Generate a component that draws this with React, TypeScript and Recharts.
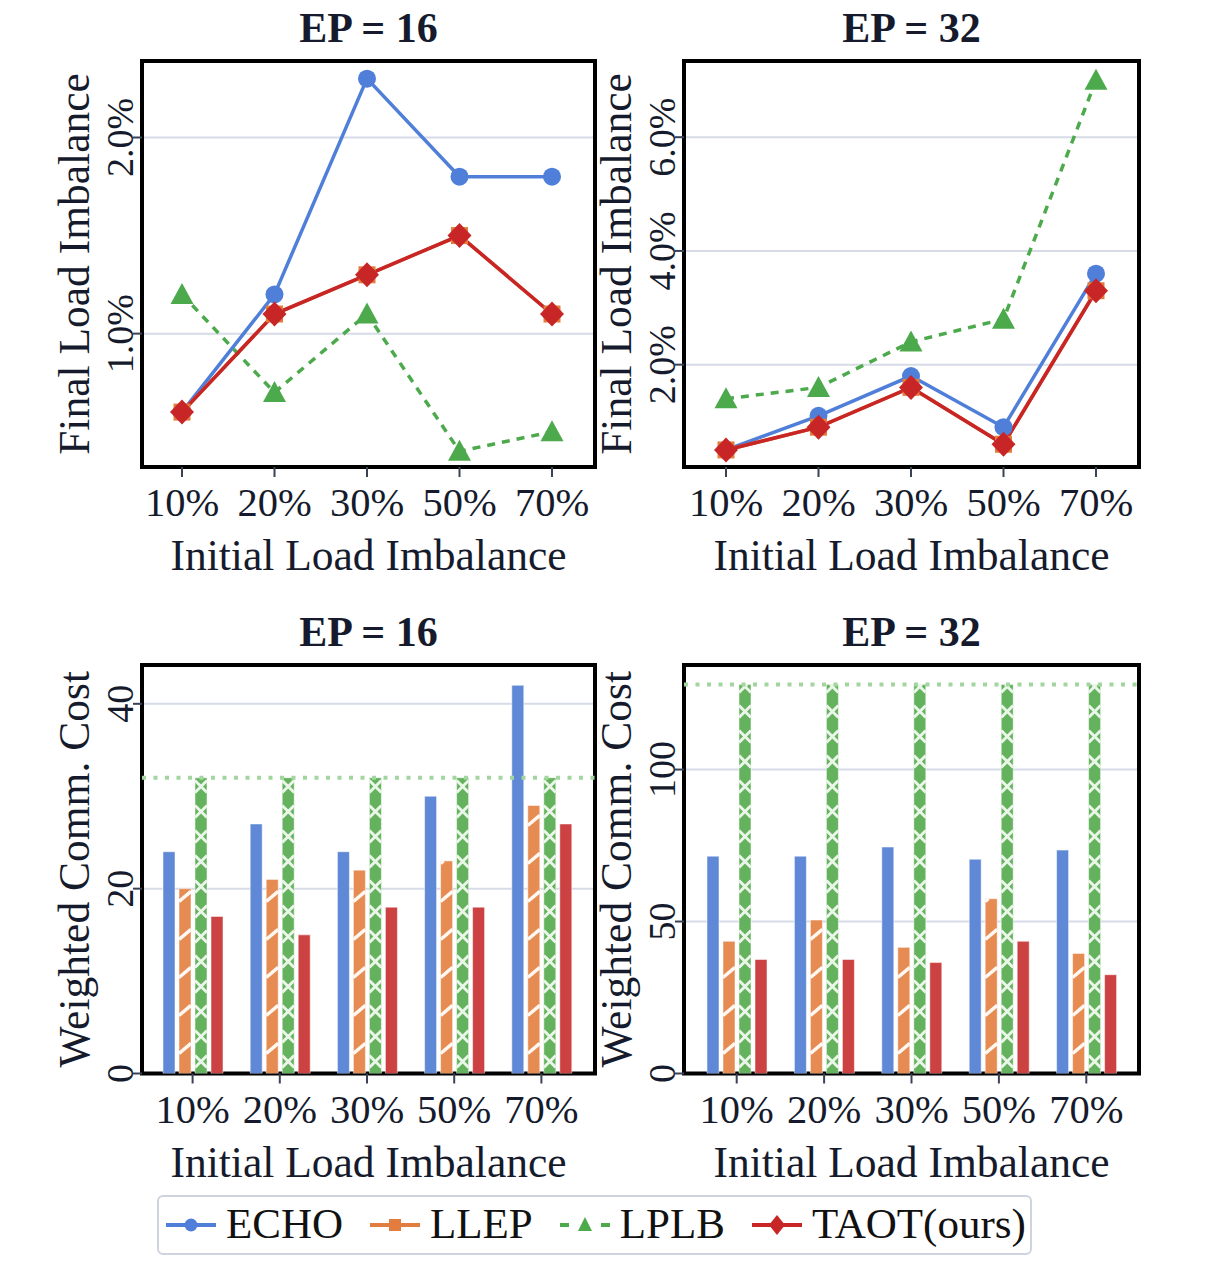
import React from 'react';
import { LineChart, Line, BarChart, Bar, XAxis, YAxis, CartesianGrid, ReferenceLine } from 'recharts';

// ---------- data ----------
const categories = ['10%', '20%', '30%', '50%', '70%'];
const seriesKeys = ['ECHO', 'LLEP', 'LPLB', 'TAOT'];
const seriesLabels = ['ECHO', 'LLEP', 'LPLB', 'TAOT(ours)'];

// Final load imbalance (%), EP = 16
const imb16Echo = [0.6, 1.2, 2.3, 1.8, 1.8];
const imb16Llep = [0.6, 1.1, 1.3, 1.5, 1.1];
const imb16Lplb = [1.2, 0.7, 1.1, 0.4, 0.5];
const imb16Taot = [0.6, 1.1, 1.3, 1.5, 1.1];
const imb16Ticks = [1.0, 2.0];

// Final load imbalance (%), EP = 32
const imb32Echo = [0.5, 1.1, 1.8, 0.9, 3.6];
const imb32Llep = [0.5, 0.9, 1.6, 0.6, 3.3];
const imb32Lplb = [1.4, 1.6, 2.4, 2.8, 7.0];
const imb32Taot = [0.5, 0.9, 1.6, 0.6, 3.3];
const imb32Ticks = [2, 4, 6];

// Weighted comm. cost, EP = 16
const cost16Echo = [24, 27, 24, 30, 42];
const cost16Llep = [20, 21, 22, 23, 29];
const cost16Lplb = [32, 32, 32, 32, 32];
const cost16Taot = [17, 15, 18, 18, 27];
const cost16Bound = 32;
const cost16Ticks = [0, 20, 40];

// Weighted comm. cost, EP = 32
const cost32Echo = [71.5, 71.5, 74.5, 70.5, 73.5];
const cost32Llep = [43.5, 50.5, 41.5, 57.5, 39.5];
const cost32Lplb = [128, 128, 128, 128, 128];
const cost32Taot = [37.5, 37.5, 36.5, 43.5, 32.5];
const cost32Bound = 128;
const cost32Ticks = [0, 50, 100];

const build = (a: number[], b: number[], c: number[], d: number[]) =>
  categories.map((cat, i) => ({ cat, ECHO: a[i], LLEP: b[i], LPLB: c[i], TAOT: d[i] }));

const dataImb16 = build(imb16Echo, imb16Llep, imb16Lplb, imb16Taot);
const dataImb32 = build(imb32Echo, imb32Llep, imb32Lplb, imb32Taot);
const dataCost16 = build(cost16Echo, cost16Llep, cost16Lplb, cost16Taot);
const dataCost32 = build(cost32Echo, cost32Llep, cost32Lplb, cost32Taot);

// ---------- style ----------
const FONT = "'Liberation Serif', 'Times New Roman', serif";
const TEXT = '#151b2c';
const TICK = '#3a4255';
const GRID = '#d6dbe7';
const LINE_COLORS: Record<string, string> = { ECHO: '#4f7fd8', LLEP: '#e27d3f', LPLB: '#4caa4c', TAOT: '#c82626' };
const BAR_COLORS: Record<string, string> = { ECHO: '#5f89d6', LLEP: '#e68b52', LPLB: '#64b25e', TAOT: '#cc4141' };

const YW = 60;
const XH = 63;

type R = { l: number; t: number; r: number; b: number };
const boxFor = (p: R) => {
  const left = p.l - 142;
  const top = p.t - 61;
  const width = p.r - left + 15;
  const height = p.b + XH - top;
  return { left, top, width, height, margin: { left: p.l - left - YW, top: p.t - top, right: 15, bottom: 0 } };
};

const XTick = (props: any) => {
  const { x, y, payload } = props;
  return (
    <text x={x} y={y + 39} textAnchor="middle" fontFamily={FONT} fontSize={40.5} fill={TEXT}>
      {payload.value}
    </text>
  );
};

const makeYTick = (fmt: (v: number) => string) => (props: any) => {
  const { x, y, payload } = props;
  return (
    <text x={x} y={y} transform={`rotate(-90 ${x} ${y})`} textAnchor="middle" fontFamily={FONT} fontSize={38} fill={TEXT}>
      {fmt(payload.value)}
    </text>
  );
};
const pctTick = makeYTick((v) => `${v.toFixed(1)}%`);
const numTick = makeYTick((v) => `${v}`);

// markers
const circleDot = (color: string) => (p: any) => (
  <circle key={`c${p.index}`} cx={p.cx} cy={p.cy} r={9} fill={color} />
);
const squareDot = (color: string) => (p: any) => (
  <rect key={`s${p.index}`} x={p.cx - 8.5} y={p.cy - 8.5} width={17} height={17} fill={color} />
);
const triDot = (color: string) => (p: any) => (
  <polygon key={`t${p.index}`} points={`${p.cx},${p.cy - 11.5} ${p.cx + 11.5},${p.cy + 9.5} ${p.cx - 11.5},${p.cy + 9.5}`} fill={color} />
);
const diaDot = (color: string) => (p: any) => (
  <polygon key={`d${p.index}`} points={`${p.cx},${p.cy - 12.5} ${p.cx + 12},${p.cy} ${p.cx},${p.cy + 12.5} ${p.cx - 12},${p.cy}`} fill={color} />
);

// hatched bar shapes
const clipSeg = (x0: number, y0: number, x1: number, y1: number, top: number, bottom: number) => {
  let t0 = 0;
  let t1 = 1;
  const dy = y1 - y0;
  if (dy === 0) return null;
  const ta = (top - y0) / dy;
  const tb = (bottom - y0) / dy;
  t0 = Math.max(t0, Math.min(ta, tb));
  t1 = Math.min(t1, Math.max(ta, tb));
  if (t1 <= t0) return null;
  return [x0 + (x1 - x0) * t0, y0 + dy * t0, x0 + (x1 - x0) * t1, y0 + dy * t1];
};

const SlashBar = (props: any) => {
  const { x, y, width: w, height: h, fill } = props;
  if (!h || h <= 0) return null;
  const bottom = y + h;
  const segs: any[] = [];
  const P = 38;
  for (let yl = bottom - 20 + P * 2; yl > y - P; yl -= P) {
    const s = clipSeg(x, yl, x + w, yl - w * 0.85, y, bottom);
    if (s) segs.push(<line key={yl} x1={s[0]} y1={s[1]} x2={s[2]} y2={s[3]} stroke="#fff8f2" strokeWidth={3.5} />);
  }
  return (
    <g>
      <rect x={x} y={y} width={w} height={h} fill={fill} stroke="#ffffff" strokeOpacity={0.5} strokeWidth={1} />
      {segs}
    </g>
  );
};

const CrossBar = (props: any) => {
  const { x, y, width: w, height: h, fill } = props;
  if (!h || h <= 0) return null;
  const bottom = y + h;
  const segs: any[] = [];
  const Q = 25;
  for (let yc = bottom - 12 + Q * 2; yc > y - Q; yc -= Q) {
    const a = clipSeg(x, yc + w / 2, x + w, yc - w / 2, y, bottom);
    const b = clipSeg(x, yc - w / 2, x + w, yc + w / 2, y, bottom);
    if (a) segs.push(<line key={`a${yc}`} x1={a[0]} y1={a[1]} x2={a[2]} y2={a[3]} stroke="#eaf6e8" strokeWidth={3} />);
    if (b) segs.push(<line key={`b${yc}`} x1={b[0]} y1={b[1]} x2={b[2]} y2={b[3]} stroke="#eaf6e8" strokeWidth={3} />);
  }
  return (
    <g>
      <rect x={x} y={y} width={w} height={h} fill={fill} stroke="#ffffff" strokeOpacity={0.5} strokeWidth={1} />
      {segs}
    </g>
  );
};

const PLOT_TL: R = { l: 142, t: 61, r: 595, b: 467 };
const PLOT_TR: R = { l: 684, t: 61, r: 1139, b: 467 };
const PLOT_BL: R = { l: 142, t: 665, r: 595, b: 1073.5 };
const PLOT_BR: R = { l: 684, t: 665, r: 1139, b: 1073.5 };

const Frame = ({ p, box }: { p: R; box: any }) => (
  <rect x={p.l - box.left} y={p.t - box.top} width={p.r - p.l} height={p.b - p.t} fill="none" stroke="#000" strokeWidth={4} />
);

const LinePanel = ({ plot, data, domain, ticks, pad }: { plot: R; data: any[]; domain: number[]; ticks: number[]; pad: { left: number; right: number } }) => {
  const box = boxFor(plot);
  return (
    <div style={{ position: 'absolute', left: box.left, top: box.top }}>
      <LineChart width={box.width} height={box.height} data={data} margin={box.margin}>
        <CartesianGrid vertical={false} stroke={GRID} strokeWidth={2} />
        <XAxis dataKey="cat" type="category" interval={0} padding={pad} tickSize={10} tickMargin={0}
          tickLine={{ stroke: TICK, strokeWidth: 2 }} axisLine={false} height={XH} tick={XTick} />
        <YAxis type="number" domain={domain} ticks={ticks} allowDataOverflow width={YW} tickSize={9} tickMargin={0}
          tickLine={{ stroke: TICK, strokeWidth: 2 }} axisLine={false} tick={pctTick} />
        <Line type="linear" dataKey="ECHO" stroke={LINE_COLORS.ECHO} strokeWidth={3.5} dot={circleDot(LINE_COLORS.ECHO)} activeDot={false} isAnimationActive={false} />
        <Line type="linear" dataKey="LLEP" stroke={LINE_COLORS.LLEP} strokeWidth={3.5} dot={squareDot(LINE_COLORS.LLEP)} activeDot={false} isAnimationActive={false} />
        <Line type="linear" dataKey="LPLB" stroke={LINE_COLORS.LPLB} strokeWidth={3.5} strokeDasharray="8 7" dot={triDot(LINE_COLORS.LPLB)} activeDot={false} isAnimationActive={false} />
        <Line type="linear" dataKey="TAOT" stroke={LINE_COLORS.TAOT} strokeWidth={3.5} dot={diaDot(LINE_COLORS.TAOT)} activeDot={false} isAnimationActive={false} />
        <Frame p={plot} box={box} />
      </LineChart>
    </div>
  );
};

const BarPanel = ({ plot, data, domain, ticks, pad, bound }: { plot: R; data: any[]; domain: number[]; ticks: number[]; pad: { left: number; right: number }; bound: number }) => {
  const box = boxFor(plot);
  return (
    <div style={{ position: 'absolute', left: box.left, top: box.top }}>
      <BarChart width={box.width} height={box.height} data={data} margin={box.margin} barGap={4}>
        <CartesianGrid vertical={false} stroke={GRID} strokeWidth={2} />
        <XAxis dataKey="cat" type="category" interval={0} padding={pad} tickSize={10} tickMargin={0}
          tickLine={{ stroke: TICK, strokeWidth: 2 }} axisLine={false} height={XH} tick={XTick} />
        <YAxis type="number" domain={domain} ticks={ticks} allowDataOverflow width={YW} tickSize={9} tickMargin={0}
          tickLine={{ stroke: TICK, strokeWidth: 2 }} axisLine={false} tick={numTick} />
        <Bar dataKey="ECHO" fill={BAR_COLORS.ECHO} barSize={12} stroke="#ffffff" strokeOpacity={0.5} strokeWidth={1} isAnimationActive={false} />
        <Bar dataKey="LLEP" fill={BAR_COLORS.LLEP} barSize={12} shape={SlashBar} isAnimationActive={false} />
        <Bar dataKey="LPLB" fill={BAR_COLORS.LPLB} barSize={12} shape={CrossBar} isAnimationActive={false} />
        <Bar dataKey="TAOT" fill={BAR_COLORS.TAOT} barSize={12} stroke="#ffffff" strokeOpacity={0.5} strokeWidth={1} isAnimationActive={false} />
        <ReferenceLine y={bound} stroke="#a3d69f" strokeWidth={4} strokeDasharray="4 7.5" />
        <Frame p={plot} box={box} />
      </BarChart>
    </div>
  );
};

const cx = (p: R) => (p.l + p.r) / 2;
const cy = (p: R) => (p.t + p.b) / 2;

const Title = ({ x, y, text }: { x: number; y: number; text: string }) => (
  <text x={x} y={y} textAnchor="middle" fontFamily={FONT} fontSize={42} fontWeight="bold" fill={TEXT}>{text}</text>
);
const XTitle = ({ x, y, text }: { x: number; y: number; text: string }) => (
  <text x={x} y={y} textAnchor="middle" fontFamily={FONT} fontSize={43.5} fill={TEXT}>{text}</text>
);
const YTitle = ({ x, y, text }: { x: number; y: number; text: string }) => (
  <text x={x} y={y} transform={`rotate(-90 ${x} ${y})`} textAnchor="middle" fontFamily={FONT} fontSize={43.5} fill={TEXT}>{text}</text>
);

const LegendIcon = ({ k }: { k: string }) => {
  const c = LINE_COLORS[k];
  return (
    <svg width={50} height={26} style={{ display: 'block' }}>
      {k === 'LPLB' ? (
        <g>
          <line x1={0} y1={13} x2={9} y2={13} stroke={c} strokeWidth={4} />
          <line x1={41} y1={13} x2={50} y2={13} stroke={c} strokeWidth={4} />
        </g>
      ) : (
        <line x1={0} y1={13} x2={50} y2={13} stroke={c} strokeWidth={4} />
      )}
      {k === 'ECHO' && <circle cx={25} cy={13} r={6.5} fill={c} />}
      {k === 'LLEP' && <rect x={19} y={7} width={12} height={12} fill={c} />}
      {k === 'LPLB' && <polygon points="25,5 32,19 18,19" fill={c} />}
      {k === 'TAOT' && <polygon points="25,3 33,13 25,23 17,13" fill={c} />}
    </svg>
  );
};

export default function App() {
  return (
    <div style={{ position: 'absolute', left: 0, top: 0, width: 1226, height: 1286, background: '#fff' }}>
      <LinePanel plot={PLOT_TL} data={dataImb16} domain={[0.32, 2.39]} ticks={imb16Ticks} pad={{ left: 40, right: 43 }} />
      <LinePanel plot={PLOT_TR} data={dataImb32} domain={[0.2, 7.34]} ticks={imb32Ticks} pad={{ left: 42, right: 43 }} />
      <BarPanel plot={PLOT_BL} data={dataCost16} domain={[0, 44.2]} ticks={cost16Ticks} pad={{ left: 7, right: 10 }} bound={cost16Bound} />
      <BarPanel plot={PLOT_BR} data={dataCost32} domain={[0, 134.4]} ticks={cost32Ticks} pad={{ left: 9, right: 9 }} bound={cost32Bound} />

      <svg width={1226} height={1286} style={{ position: 'absolute', left: 0, top: 0, pointerEvents: 'none' }}>
        <Title x={cx(PLOT_TL)} y={42} text="EP = 16" />
        <Title x={cx(PLOT_TR)} y={42} text="EP = 32" />
        <Title x={cx(PLOT_BL)} y={646} text="EP = 16" />
        <Title x={cx(PLOT_BR)} y={646} text="EP = 32" />
        <XTitle x={cx(PLOT_TL)} y={570} text="Initial Load Imbalance" />
        <XTitle x={cx(PLOT_TR)} y={570} text="Initial Load Imbalance" />
        <XTitle x={cx(PLOT_BL)} y={1176.5} text="Initial Load Imbalance" />
        <XTitle x={cx(PLOT_BR)} y={1176.5} text="Initial Load Imbalance" />
        <YTitle x={PLOT_TL.l - 53} y={cy(PLOT_TL)} text="Final Load Imbalance" />
        <YTitle x={PLOT_TR.l - 53} y={cy(PLOT_TR)} text="Final Load Imbalance" />
        <YTitle x={PLOT_BL.l - 53} y={cy(PLOT_BL)} text="Weighted Comm. Cost" />
        <YTitle x={PLOT_BR.l - 53} y={cy(PLOT_BR)} text="Weighted Comm. Cost" />
      </svg>

      <div style={{
        position: 'absolute', left: 157, top: 1195, width: 875, height: 60, boxSizing: 'border-box',
        border: '2px solid #cdd4e0', borderRadius: 6, display: 'flex', alignItems: 'center', paddingLeft: 7,
        fontFamily: FONT, fontSize: 43, color: '#111', lineHeight: 1,
      }}>
        {seriesKeys.map((k, i) => (
          <div key={k} style={{ display: 'flex', alignItems: 'center', marginRight: 27 }}>
            <LegendIcon k={k} />
            <span style={{ marginLeft: 10, position: 'relative', top: -2 }}>{seriesLabels[i]}</span>
          </div>
        ))}
      </div>
    </div>
  );
}
